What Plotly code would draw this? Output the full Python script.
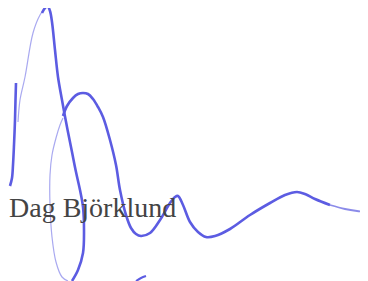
import plotly.graph_objects as go

# Signature strokes (pixel-space coordinates)
stroke_left_x = [16, 15.5, 15, 14, 13, 12, 10]
stroke_left_y = [83, 100, 120, 145, 165, 178, 186]

stroke_rise_x = [18, 20, 25, 33, 40, 46]
stroke_rise_y = [122, 100, 77, 33, 15, 7]

stroke_main_x = [42, 45, 47.5, 50, 52, 55, 58, 62, 67, 72, 76, 80, 83, 84, 83, 78, 72]
stroke_main_y = [13, 8, 6, 11, 22, 50, 77, 100, 127, 152, 172, 190, 207, 230, 253, 270, 281]

stroke_loop_x = [68, 62, 56, 52, 50, 50, 52, 56, 60, 63]
stroke_loop_y = [281, 277, 262, 237, 205, 175, 155, 138, 125, 118]

stroke_wave_x = [63, 67, 73, 78, 83, 88, 93, 98, 103, 110, 116, 120, 126, 131, 136, 141, 150, 160,
                 170, 175, 178, 183, 190, 198, 206, 215, 230, 250, 270, 285, 297, 305, 315, 330]
stroke_wave_y = [116, 106, 98, 94, 93, 94, 99, 107, 117, 140, 165, 190, 215, 228, 234, 236, 233, 220,
                 203, 197, 196, 205, 222, 232, 237, 236, 229, 215, 203, 195, 192, 194, 199, 205]

stroke_tail_x = [330, 345, 357, 368, 375]
stroke_tail_y = [205, 209, 211, 212, 212]

stroke_tick_x = [136, 141, 146]
stroke_tick_y = [281, 278, 276]

signer_name = "Dag Björklund"

THICK = "#5c5ce2"
THIN = "rgba(140,140,235,0.75)"

# page body has an 8px margin; shift the axis ranges so coordinates match the window
OFFSET = 8

fig = go.Figure()

def add(xs, ys, color, width):
    fig.add_trace(go.Scatter(x=xs, y=ys, mode="lines",
                             line=dict(color=color, width=width, shape="spline", smoothing=1.0),
                             hoverinfo="skip", cliponaxis=False))

add(stroke_rise_x, stroke_rise_y, THIN, 1.2)
add(stroke_loop_x, stroke_loop_y, THIN, 1.2)
add(stroke_left_x, stroke_left_y, THICK, 2.6)
add(stroke_main_x, stroke_main_y, THICK, 2.6)
add(stroke_wave_x, stroke_wave_y, THICK, 2.6)
add(stroke_tail_x, stroke_tail_y, "rgba(110,110,228,0.8)", 1.8)
add(stroke_tick_x, stroke_tick_y, THICK, 2)

fig.add_annotation(x=9, y=207, xref="x", yref="y", text=signer_name, showarrow=False,
                   xanchor="left", yanchor="middle", xshift=-2,
                   font=dict(family="Liberation Serif", size=28, color="#444444"))

fig.update_layout(width=368, height=281, margin=dict(l=0, r=0, t=0, b=0),
                  paper_bgcolor="white", plot_bgcolor="white", showlegend=False)
fig.update_xaxes(range=[OFFSET, 368 + OFFSET], visible=False, fixedrange=True)
fig.update_yaxes(range=[281 + OFFSET, OFFSET], visible=False, fixedrange=True)

fig.write_html("out.html")
